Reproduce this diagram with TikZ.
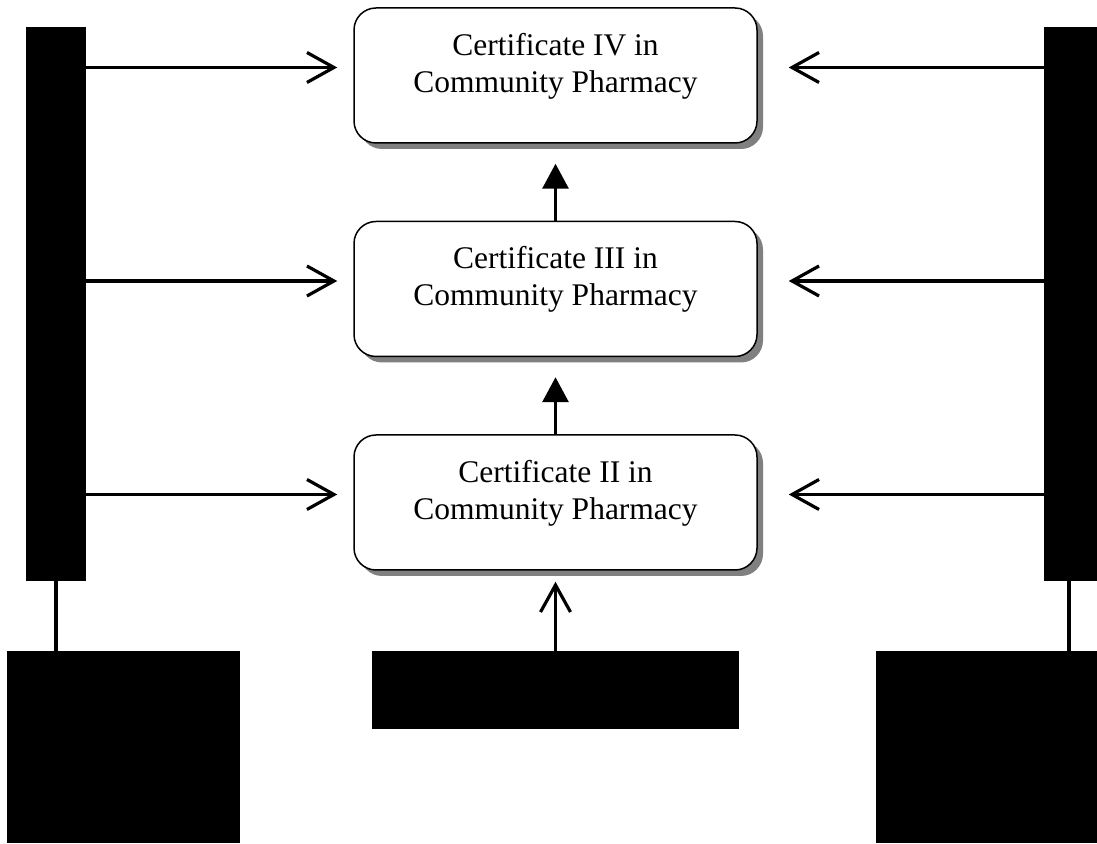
\documentclass[tikz,border=0pt]{standalone}
\usepackage{fontspec}
\setmainfont{Liberation Serif}
\usetikzlibrary{positioning,arrows.meta,shadows}

\begin{document}
\begin{tikzpicture}[x=1pt,y=1pt,font=\fontsize{31.5}{37}\selectfont,
  cert/.style={draw,line width=1.5pt,rounded corners=22pt,fill=white,align=center,
    minimum width=403pt,minimum height=135pt,text depth=26pt,
    drop shadow={shadow xshift=6pt,shadow yshift=-6pt,fill=black!50,opacity=1}},
  blk/.style={fill=black,inner sep=0pt,outer sep=0pt},
  barb/.style={line width=3.2pt,-{Straight Barb[length=27pt,width=30pt]}},
  tri/.style={line width=3.2pt,-{Triangle[length=25pt,width=26pt]}}]
  \useasboundingbox (0,0) rectangle (1097,843);
  % qualifications
  \node[cert] (c4) at (555.5,767.5) {Certificate IV in\\Community Pharmacy};
  \node[cert,below=77pt of c4] (c3) {Certificate III in\\Community Pharmacy};
  \node[cert,below=77pt of c3] (c2) {Certificate II in\\Community Pharmacy};
  % black blocks
  \node[blk,minimum width=60pt,minimum height=554pt] (lbar) at (56,539) {};
  \node[blk,minimum width=53pt,minimum height=554pt] (rbar) at (1070.5,539) {};
  \node[blk,minimum width=233pt,minimum height=192pt] (lbox) at (123.5,96) {};
  \node[blk,minimum width=221pt,minimum height=192pt] (rbox) at (986.5,96) {};
  \node[blk,minimum width=367pt,minimum height=78pt] (mbox) at (555.5,153) {};
  % links
  \draw[line width=3.5pt] (lbar.south) -- (lbar.south |- lbox.north);
  \draw[line width=3.5pt] ([xshift=-1.5pt]rbar.south) -- ([xshift=-1.5pt]rbar.south |- rbox.north);
  \foreach \c in {c2,c3,c4} {
    \coordinate (h\c) at ([yshift=8pt]\c.west);
    \coordinate (k\c) at ([yshift=8pt]\c.east);
    \draw[barb,shorten >=16pt] (h\c -| lbar.east) -- (h\c);
    \draw[barb,shorten >=31pt] (k\c -| rbar.west) -- (k\c);
  }
  \draw[tri,shorten >=20pt] (c3.north) -- (c4.south);
  \draw[tri,shorten >=20pt] (c2.north) -- (c3.south);
  \draw[barb,shorten >=11pt] (mbox.north) -- (c2.south);
\end{tikzpicture}
\end{document}
